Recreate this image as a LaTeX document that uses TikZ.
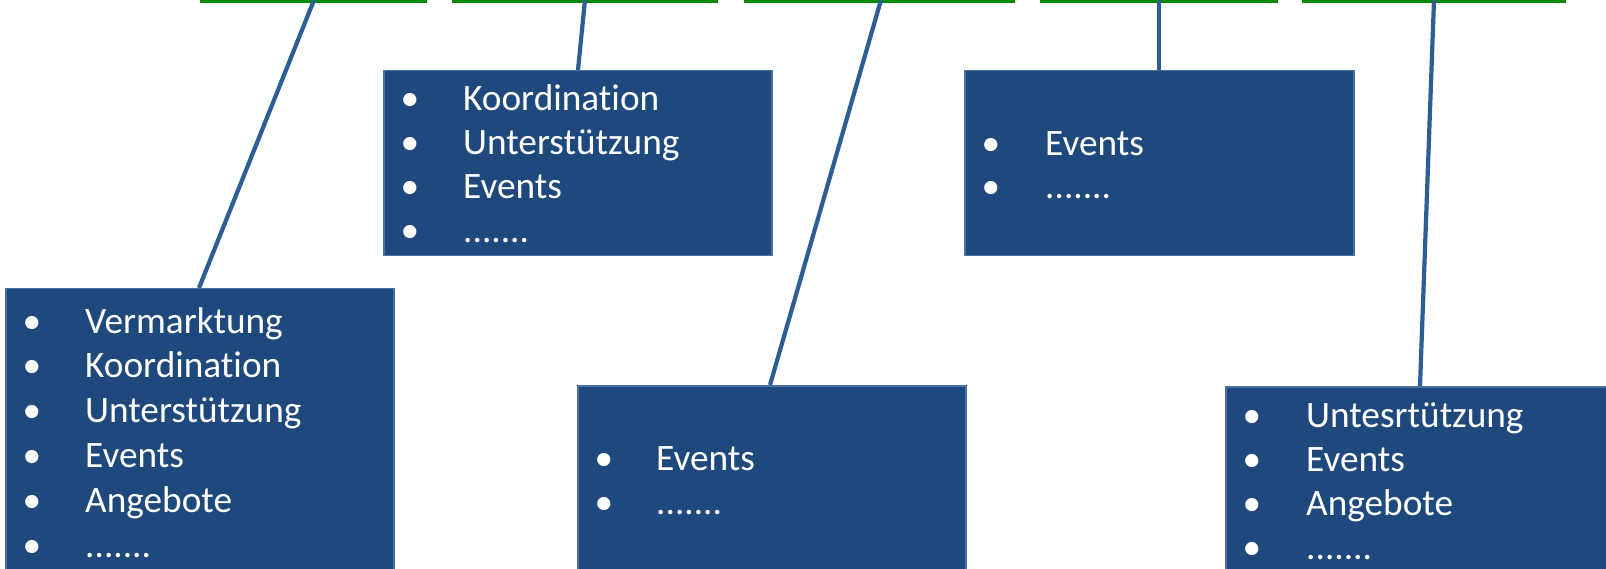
\documentclass[tikz,border=0pt]{standalone}
\usepackage{fontspec}
\setmainfont{Carlito}[Ligatures={NoCommon}]
\usetikzlibrary{calc}
\definecolor{boxfill}{RGB}{31,73,125}
\definecolor{boxline}{RGB}{70,114,160}
\definecolor{conncol}{RGB}{44,94,148}
\definecolor{topgreen}{RGB}{0,138,0}
\newcommand{\sevendots}{.......}
\begin{document}
\begin{tikzpicture}[x=1pt,y=-1pt,
  infobox/.style={draw=boxline, line width=1.5pt, fill=boxfill, rectangle, inner sep=0pt, anchor=north west},
  bul/.style={text=white, font=\fontsize{37.3}{44}\selectfont, inner sep=0pt, anchor=base},
  itemtext/.style={text=white, font=\fontsize{37.3}{44}\selectfont, inner sep=0pt, anchor=base west},
  connline/.style={draw=conncol, line width=4.2pt},
  grn/.style={draw=topgreen, line width=3pt}]
\clip (0,0) rectangle (1606,569);
\fill[white] (0,0) rectangle (1606,569);

% green edges at top
\coordinate (g1l) at (200,1.2); \coordinate (g1r) at (427,1.2);
\coordinate (g2l) at (452,1.2); \coordinate (g2r) at (718,1.2);
\coordinate (g3l) at (744,1.2); \coordinate (g3r) at (1015,1.2);
\coordinate (g4l) at (1040,1.2); \coordinate (g4r) at (1278,1.2);
\coordinate (g5l) at (1302,1.2); \coordinate (g5r) at (1566,1.2);
\foreach \k in {1,2,3,4,5} { \draw[grn] (g\k l) -- (g\k r); }

% top ends of connectors
\coordinate (t1) at (314,0);
\coordinate (t2) at (585,0);
\coordinate (t3) at (881,0);
\coordinate (t4) at (1159,0);
\coordinate (t5) at (1434,0);

% boxes
\node[infobox, minimum width=388pt, minimum height=300pt] (A) at (5,288) {};
\node[infobox, minimum width=388pt, minimum height=185pt] (B) at (383,70) {};
\node[infobox, minimum width=388pt, minimum height=200pt] (C) at (577,385) {};
\node[infobox, minimum width=389pt, minimum height=185pt] (D) at (964,70) {};
\node[infobox, minimum width=400pt, minimum height=200pt] (E) at (1225,386) {};

% connectors
\draw[connline] (t1) -- ([xshift=194pt]A.north west);
\draw[connline] (t2) -- ([xshift=195pt]B.north west);
\draw[connline] (t3) -- ([xshift=193pt]C.north west);
\draw[connline] (t4) -- ([xshift=195pt]D.north west);
\draw[connline] (t5) -- ([xshift=195pt]E.north west);

% texts
\foreach \t [count=\i] in {Vermarktung,Koordination,Unterstützung,Events,Angebote,\sevendots} {
  \node[bul] (Ab\i) at ([shift={(27,{45+44.8*(\i-1)})}]A.north west) {•};
  \node[itemtext] (At\i) at ([shift={(80,{45+44.8*(\i-1)})}]A.north west) {\t};
}
\foreach \t [count=\i] in {Koordination,Unterstützung,Events,\sevendots} {
  \node[bul] (Bb\i) at ([shift={(27,{41+44*(\i-1)})}]B.north west) {•};
  \node[itemtext] (Bt\i) at ([shift={(80,{41+44*(\i-1)})}]B.north west) {\t};
}
\foreach \t [count=\i] in {Events,\sevendots} {
  \node[bul] (Cb\i) at ([shift={(27,{85+44*(\i-1)})}]C.north west) {•};
  \node[itemtext] (Ct\i) at ([shift={(79,{85+44*(\i-1)})}]C.north west) {\t};
}
\foreach \t [count=\i] in {Events,\sevendots} {
  \node[bul] (Db\i) at ([shift={(27,{86+43*(\i-1)})}]D.north west) {•};
  \node[itemtext] (Dt\i) at ([shift={(81,{86+43*(\i-1)})}]D.north west) {\t};
}
\foreach \t [count=\i] in {Untesrtützung,Events,Angebote,\sevendots} {
  \node[bul] (Eb\i) at ([shift={(27,{41+44*(\i-1)})}]E.north west) {•};
  \node[itemtext] (Et\i) at ([shift={(81,{41+44*(\i-1)})}]E.north west) {\t};
}
\end{tikzpicture}
\end{document}
